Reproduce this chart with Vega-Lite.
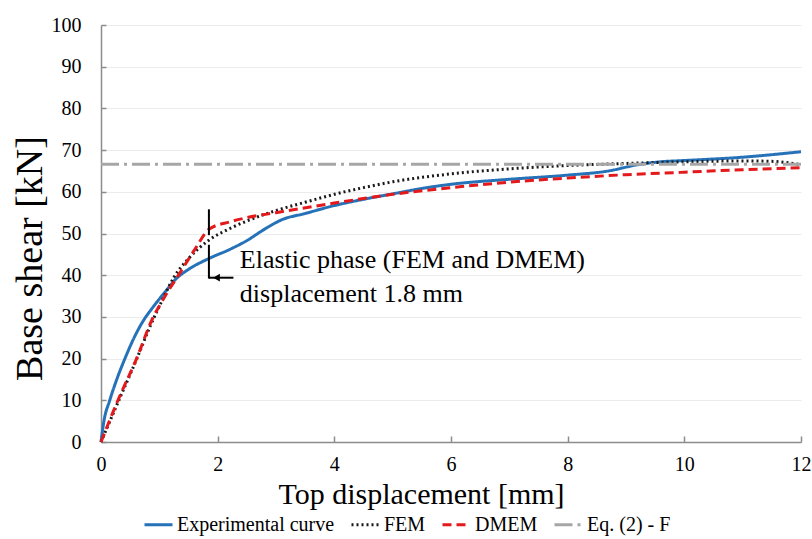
{
  "$schema": "https://vega.github.io/schema/vega-lite/v6.json",
  "width": 700,
  "height": 417,
  "autosize": {"type": "none"},
  "padding": {"left": 101, "top": 25, "right": 11, "bottom": 97},
  "background": "white",
  "config": {
    "view": {"stroke": null},
    "font": "Liberation Serif",
    "axis": {"labelFont": "Liberation Serif", "titleFont": "Liberation Serif", "labelColor": "#000", "titleColor": "#000", "titleFontWeight": "normal"},
    "legend": {"labelFont": "Liberation Serif"}
  },
  "datasets": {
    "curves": [
      {"series": "Experimental curve", "x": 0, "y": 0},
      {"series": "Experimental curve", "x": 0.05, "y": 5},
      {"series": "Experimental curve", "x": 0.15, "y": 10},
      {"series": "Experimental curve", "x": 0.27, "y": 15},
      {"series": "Experimental curve", "x": 0.41, "y": 20},
      {"series": "Experimental curve", "x": 0.55, "y": 24.5},
      {"series": "Experimental curve", "x": 0.7, "y": 28.5},
      {"series": "Experimental curve", "x": 0.9, "y": 32.5},
      {"series": "Experimental curve", "x": 1.1, "y": 36},
      {"series": "Experimental curve", "x": 1.3, "y": 39.3},
      {"series": "Experimental curve", "x": 1.5, "y": 41.4},
      {"series": "Experimental curve", "x": 1.85, "y": 44},
      {"series": "Experimental curve", "x": 2.21, "y": 46.2},
      {"series": "Experimental curve", "x": 2.5, "y": 48.3},
      {"series": "Experimental curve", "x": 2.8, "y": 51},
      {"series": "Experimental curve", "x": 3.1, "y": 53.3},
      {"series": "Experimental curve", "x": 3.5, "y": 54.8},
      {"series": "Experimental curve", "x": 4, "y": 56.7},
      {"series": "Experimental curve", "x": 4.5, "y": 58.2},
      {"series": "Experimental curve", "x": 5, "y": 59.5},
      {"series": "Experimental curve", "x": 5.5, "y": 60.8},
      {"series": "Experimental curve", "x": 6, "y": 61.8},
      {"series": "Experimental curve", "x": 7, "y": 63},
      {"series": "Experimental curve", "x": 8, "y": 64},
      {"series": "Experimental curve", "x": 8.7, "y": 65},
      {"series": "Experimental curve", "x": 9.2, "y": 66.5},
      {"series": "Experimental curve", "x": 9.6, "y": 67.2},
      {"series": "Experimental curve", "x": 10, "y": 67.5},
      {"series": "Experimental curve", "x": 11, "y": 68.3},
      {"series": "Experimental curve", "x": 12, "y": 69.6},
      {"series": "FEM", "x": 0, "y": 0},
      {"series": "FEM", "x": 0.3, "y": 9.8},
      {"series": "FEM", "x": 0.6, "y": 19.5},
      {"series": "FEM", "x": 0.85, "y": 28},
      {"series": "FEM", "x": 1.05, "y": 34},
      {"series": "FEM", "x": 1.25, "y": 39.5},
      {"series": "FEM", "x": 1.5, "y": 44},
      {"series": "FEM", "x": 1.85, "y": 48.4},
      {"series": "FEM", "x": 2.21, "y": 51.2},
      {"series": "FEM", "x": 2.5, "y": 53},
      {"series": "FEM", "x": 3, "y": 55.5},
      {"series": "FEM", "x": 3.5, "y": 57.5},
      {"series": "FEM", "x": 4, "y": 59.4},
      {"series": "FEM", "x": 4.5, "y": 61},
      {"series": "FEM", "x": 5, "y": 62.4},
      {"series": "FEM", "x": 6, "y": 64.3},
      {"series": "FEM", "x": 7, "y": 65.5},
      {"series": "FEM", "x": 8, "y": 66.3},
      {"series": "FEM", "x": 9, "y": 66.8},
      {"series": "FEM", "x": 10, "y": 67.2},
      {"series": "FEM", "x": 11, "y": 67.4},
      {"series": "FEM", "x": 11.5, "y": 67.3},
      {"series": "FEM", "x": 12, "y": 66.5},
      {"series": "DMEM", "x": 0, "y": 0},
      {"series": "DMEM", "x": 0.29, "y": 10},
      {"series": "DMEM", "x": 0.61, "y": 20},
      {"series": "DMEM", "x": 0.88, "y": 29.5},
      {"series": "DMEM", "x": 1.1, "y": 35},
      {"series": "DMEM", "x": 1.35, "y": 40.5},
      {"series": "DMEM", "x": 1.6, "y": 46},
      {"series": "DMEM", "x": 1.85, "y": 51},
      {"series": "DMEM", "x": 2.21, "y": 52.8},
      {"series": "DMEM", "x": 2.5, "y": 53.8},
      {"series": "DMEM", "x": 3, "y": 55},
      {"series": "DMEM", "x": 4, "y": 57.3},
      {"series": "DMEM", "x": 5, "y": 59.4},
      {"series": "DMEM", "x": 6, "y": 61},
      {"series": "DMEM", "x": 7, "y": 62.3},
      {"series": "DMEM", "x": 8, "y": 63.3},
      {"series": "DMEM", "x": 9, "y": 64.1},
      {"series": "DMEM", "x": 10, "y": 64.7},
      {"series": "DMEM", "x": 11, "y": 65.3},
      {"series": "DMEM", "x": 12, "y": 65.8},
      {"series": "Eq. (2) - F", "x": 0, "y": 66.6},
      {"series": "Eq. (2) - F", "x": 12, "y": 66.6}
    ],
    "vlines": [
      {"x": 1.85, "y": 55.8, "y2": 49.6},
      {"x": 1.85, "y": 47.3, "y2": 39.2}
    ],
    "hline": [{"x": 1.85, "x2": 2.27, "y": 39.4}],
    "arrowhead": [{"x": 1.98, "y": 39.4}],
    "notes": [
      {"x": 2.38, "y": 43.6, "text": "Elastic phase (FEM and DMEM)"},
      {"x": 2.38, "y": 35.4, "text": "displacement 1.8 mm"}
    ]
  },
  "encoding": {
    "x": {
      "field": "x", "type": "quantitative",
      "scale": {"domain": [0, 12], "nice": false, "zero": false},
      "axis": {
        "title": "Top displacement [mm]",
        "titleFontSize": 30, "titleX": 320, "titleY": 52, "titleBaseline": "middle", "titleAlign": "center",
        "values": [0, 2, 4, 6, 8, 10, 12], "grid": false,
        "domainColor": "#8c8c8c", "domainWidth": 1.5,
        "tickColor": "#8c8c8c", "tickWidth": 1.5, "tickSize": -6,
        "labelFontSize": 20, "labelPadding": 18, "labelFlush": false
      }
    },
    "y": {
      "field": "y", "type": "quantitative",
      "scale": {"domain": [0, 100], "nice": false, "zero": false},
      "axis": {
        "title": "Base shear [kN]",
        "titleFontSize": 38, "titleX": -71, "titleY": 233, "titleBaseline": "middle", "titleAlign": "center", "titleAngle": -90,
        "values": [0, 10, 20, 30, 40, 50, 60, 70, 80, 90, 100],
        "grid": true, "gridColor": "#ececec", "gridWidth": 1,
        "domainColor": "#8c8c8c", "domainWidth": 1.5,
        "tickColor": "#8c8c8c", "tickWidth": 1.5, "tickSize": -5,
        "labelFontSize": 20, "labelPadding": 25
      }
    }
  },
  "layer": [
    {
      "data": {"name": "curves"},
      "mark": {"type": "line", "strokeWidth": 3, "interpolate": "monotone"},
      "encoding": {
        "color": {
          "field": "series", "type": "nominal",
          "scale": {"domain": ["Experimental curve", "FEM", "DMEM", "Eq. (2) - F"], "range": ["#2672B8", "#1a1a1a", "#E3191C", "#A6A6A6"]},
          "legend": {
            "title": null, "orient": "none", "legendX": 42, "legendY": 484, "direction": "horizontal",
            "labelFontSize": 20, "labelColor": "#000", "symbolType": "stroke", "symbolSize": 784,
            "symbolStrokeWidth": 3, "columnPadding": 10, "labelOffset": 3
          }
        },
        "strokeDash": {
          "field": "series", "type": "nominal",
          "scale": {"domain": ["Experimental curve", "FEM", "DMEM", "Eq. (2) - F"], "range": [[1, 0], [2, 3], [9, 5], [18, 5, 3, 5]]},
          "legend": {
            "title": null, "orient": "none", "legendX": 42, "legendY": 484, "direction": "horizontal",
            "labelFontSize": 20, "labelColor": "#000", "symbolType": "stroke", "symbolSize": 784,
            "symbolStrokeWidth": 3, "columnPadding": 10, "labelOffset": 3
          }
        },
        "order": {"field": "x", "type": "quantitative"}
      }
    },
    {
      "data": {"name": "vlines"},
      "mark": {"type": "rule", "color": "#000", "strokeWidth": 2},
      "encoding": {"y2": {"field": "y2"}}
    },
    {
      "data": {"name": "hline"},
      "mark": {"type": "rule", "color": "#000", "strokeWidth": 2},
      "encoding": {"x2": {"field": "x2"}}
    },
    {
      "data": {"name": "arrowhead"},
      "mark": {"type": "point", "shape": "triangle-left", "filled": true, "color": "#000", "size": 60, "opacity": 1}
    },
    {
      "data": {"name": "notes"},
      "mark": {"type": "text", "align": "left", "baseline": "middle", "fontSize": 26, "font": "Liberation Serif", "color": "#000"},
      "encoding": {"text": {"field": "text", "type": "nominal"}}
    }
  ]
}
